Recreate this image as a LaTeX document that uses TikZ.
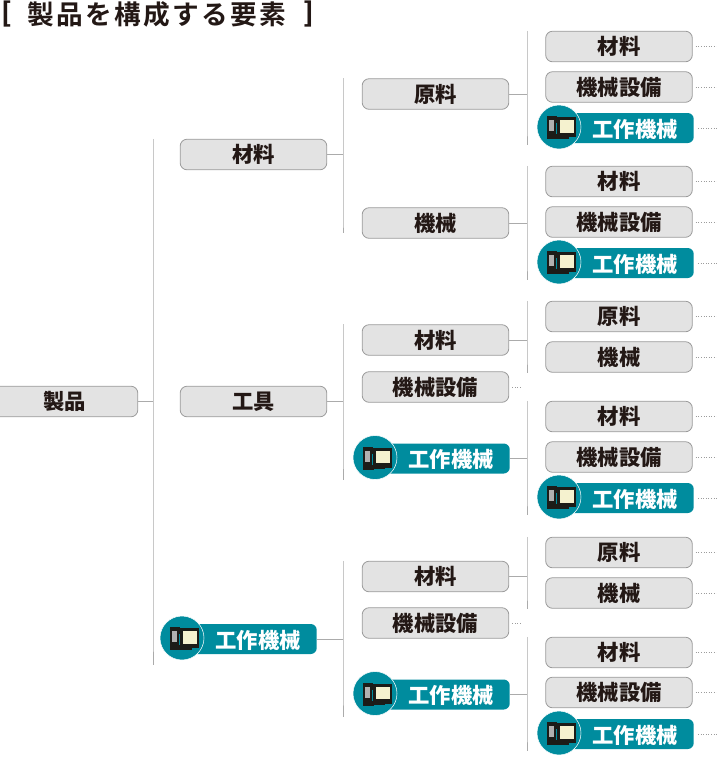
\documentclass[tikz,border=0pt]{standalone}
\usepackage{fontspec}
\setmainfont{Noto Sans CJK JP}[BoldFont={Noto Sans CJK JP Black}]
\newfontfamily\titlefont{Noto Sans CJK JP Black}[LetterSpace=9]
\definecolor{ink}{HTML}{231815}
\definecolor{tealc}{HTML}{008C9E}
\definecolor{boxfill}{HTML}{E3E3E3}
\definecolor{boxline}{HTML}{9C9C9C}
\definecolor{linkc}{HTML}{ABABAB}
\definecolor{cream}{HTML}{F5F2CF}
\definecolor{panel}{HTML}{1C1C18}
\tikzset{
  x=0.75pt,y=-0.75pt,
  graybox/.style={draw=boxline,line width=0.6pt,fill=boxfill,rounded corners=5.25pt,minimum width=110pt,minimum height=23pt,inner sep=0pt,text=ink,font=\fontsize{16pt}{16pt}\bfseries},
  tealbox/.style={fill=tealc,rounded corners=4.5pt,minimum height=22.5pt,inner sep=0pt},
  tealtext/.style={text=white,inner sep=0pt,font=\fontsize{16pt}{16pt}\bfseries},
  badge/.style={circle,fill=tealc,draw=white,line width=0.4pt,minimum size=33pt,inner sep=0pt},
  link/.style={draw=linkc,line width=0.7pt},
  stub/.style={draw=boxline,line width=0.6pt,dash pattern=on 0.75pt off 1.2pt},
  titletext/.style={text=ink,inner sep=0pt,anchor=west,font=\fontsize{20pt}{20pt}\bfseries}
}
% gray box: name, cx, cy, text
\newcommand{\graynode}[4]{\node[graybox] (#1) at (#2,#3) {\raisebox{-0.6pt}{#4}};}
% leaf with dotted tail
\newcommand{\leafnode}[3]{\graynode{#1}{619}{#2}{#3}
  \draw[stub] ([xshift=2.25pt]#1.east) -- (#1.east -| edgeR);}
% teal item: name, right edge, cy
\newcommand{\tealitem}[3]{%
  \begin{scope}[shift={(#2-134,#3-1.5)}]
    \node[tealbox,anchor=east,minimum width=100pt] (#1) at (134,1) {};
    \node[tealtext] (#1-t) at (75,2) {工作機械};
    \node[badge] (#1-c) at (-1,0) {};
    \fill[panel] (-13,-11) rectangle (-3,10);
    \fill[panel] (-13,10) rectangle (-2,12);
    \fill[panel] (-3,-10) rectangle (16,10);
    \fill[panel] (-3,10) rectangle (9,11.5);
    \draw[tealc,line width=0.4pt] (-3.5,-4) -- (-3.5,7);
    \fill[boxfill!75!panel] (-11.3,-7) rectangle (-6,4);
    \fill[cream] (-0.5,-7) -- (14,-7) -- (14,5.5) -- (-0.5,5.5) -- cycle;
  \end{scope}}
% bus: parent, x, top node, bottom node, extra below the bottom node's centre
\newcommand{\busline}[5]{%
  \coordinate (bus-#1) at (#2,0);
  \draw[link] (#1.east) -- (#1.east -| bus-#1);
  \draw[link] (bus-#1 |- #3.north) -- (bus-#1 |- #4.center) -- ++(0,#5);}
\begin{document}
\begin{tikzpicture}
\useasboundingbox (0,0) rectangle (717,758);
\clip (0,0) rectangle (717,758);
\coordinate (edgeR) at (717,0);
\coordinate (edgeM) at (522,0);
\node[titletext] (brL) at (1,14) {[};
\node[titletext] (ttl) at (27,14) {\titlefont 製品を構成する要素};
\node[titletext] (brR) at (303,14) {]};
% root and first level
\graynode{root}{64.5}{401.5}{製品}
\graynode{a1}{253.5}{154.5}{材料}
\graynode{a2}{253.5}{401.5}{工具}
\tealitem{a3}{317}{639.5}
% second level
\graynode{m1}{435.5}{94}{原料}
\graynode{m2}{435.5}{223}{機械}
\graynode{m3}{435.5}{340}{材料}
\graynode{m4}{435.5}{387}{機械設備}
\tealitem{m5}{510}{459}
\graynode{m6}{435.5}{576.5}{材料}
\graynode{m7}{435.5}{623}{機械設備}
\tealitem{m8}{510}{695}
\draw[stub] ([xshift=2.25pt]m4.east) -- (m4.east -| edgeM);
\draw[stub] ([xshift=2.25pt]m7.east) -- (m7.east -| edgeM);
% leaves
\leafnode{l1}{46.5}{材料}
\leafnode{l2}{87}{機械設備}
\tealitem{l3}{694}{128.5}
\leafnode{l4}{181.5}{材料}
\leafnode{l5}{222}{機械設備}
\tealitem{l6}{694}{263.5}
\leafnode{l7}{316.5}{原料}
\leafnode{l8}{357}{機械}
\leafnode{l9}{416.5}{材料}
\leafnode{l10}{457}{機械設備}
\tealitem{l11}{694}{498.5}
\leafnode{l12}{552.5}{原料}
\leafnode{l13}{593}{機械}
\leafnode{l14}{652.5}{材料}
\leafnode{l15}{692.5}{機械設備}
\tealitem{l16}{694}{734.5}
\foreach \n in {l3,l6,l11,l16} {\draw[stub] ([xshift=3pt]\n.east) -- (\n.east -| edgeR);}
% connectors
\busline{root}{153}{a1}{a3}{26}
\busline{a1}{343}{m1}{m2}{10}
\busline{a2}{343}{m3}{m5}{21}
\busline{a3}{343}{m6}{m8}{22}
\busline{m1}{527}{l1}{l3}{17}
\busline{m2}{527}{l4}{l6}{17}
\busline{m3}{527}{l7}{l8}{16}
\busline{m5}{527}{l9}{l11}{17}
\busline{m6}{527}{l12}{l13}{16}
\busline{m8}{527}{l14}{l16}{17}
\end{tikzpicture}
\end{document}
